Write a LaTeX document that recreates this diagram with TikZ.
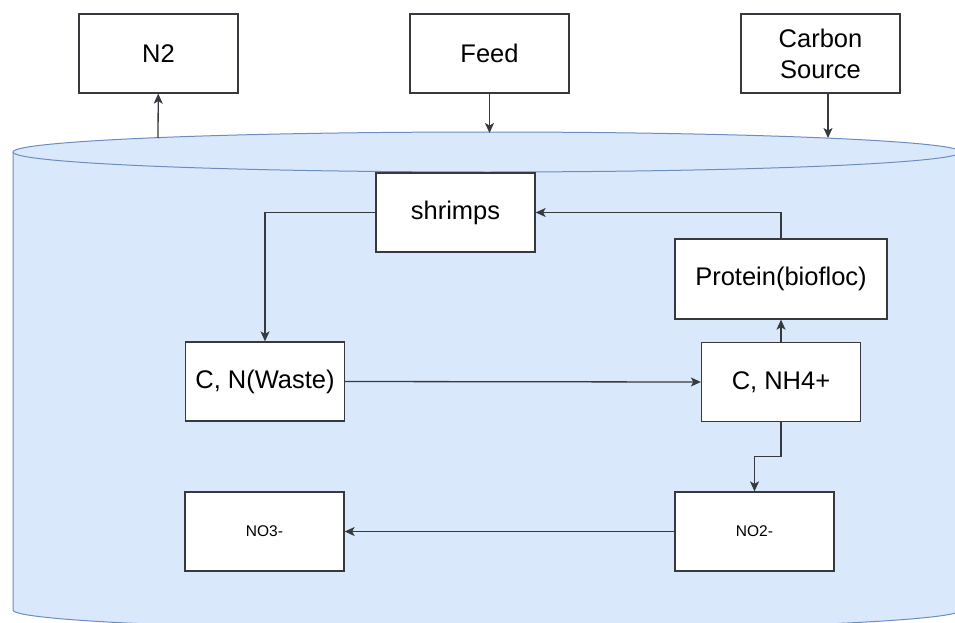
\documentclass[tikz,border=0pt]{standalone}
\usepackage{fontspec}
\setmainfont{Liberation Sans}
\usepackage{xcolor}
\usetikzlibrary{arrows.meta, positioning}
\definecolor{tankfill}{HTML}{DAE8FC}
\definecolor{tankline}{HTML}{6C8EBF}
\definecolor{boxline}{HTML}{36393D}
\tikzset{
    box/.style={draw=boxline, line width=1.3pt, fill=white, minimum width=159pt, minimum height=79pt, inner sep=0pt, font=\fontsize{25.5}{31}\selectfont, align=center},
    smallbox/.style={box, font=\fontsize{15.5}{18}\selectfont},
    flow/.style={draw=boxline, line width=1.3pt, -{Stealth[length=10pt, width=9pt, inset=2.5pt]}},
    tank/.style={fill=tankfill, draw=tankline, line width=1pt}
}
\begin{document}
\begin{tikzpicture}[x=1pt, y=-1pt]
    \useasboundingbox (0,0) rectangle (955,623);
    \clip (0,0) rectangle (955,623);
    \fill[tankfill] (13,152) rectangle (961,610);
    \fill[tankfill] (487,610) ellipse [x radius=474, y radius=20];
    \draw[tank] (13,152) -- (13,610) arc[start angle=180, end angle=0, x radius=474, y radius=20] -- (961,152);
    \draw[tank] (487,152) ellipse [x radius=474, y radius=20];
    \node[box] (n2) at (158.5,53.5) {N2};
    \node[box] (feed) at (489.5,53.5) {Feed};
    \node[box] (carbon) at (820.5,53.5) {Carbon\\Source};
    \node[box] (shrimps) at (455.5,212.5) {shrimps};
    \node[box, minimum width=212pt, minimum height=80pt] (protein) at (781,279) {Protein(biofloc)};
    \node[box] (waste) at (265,381.5) {C, N(Waste)};
    \node[box] (ammonium) at (781,382) {C, NH4+};
    \node[smallbox] (nitrite) at (754.5,531.5) {NO2-};
    \node[smallbox] (nitrate) at (264.5,531.5) {NO3-};
    \coordinate (n2src) at (158,138);
    \coordinate (feedin) at (489.5,133);
    \coordinate (carbonin) at (828,138);
    \draw[flow] (n2src) -- (n2);
    \draw[flow] (feed) -- (feedin);
    \draw[flow] (carbon.south -| carbonin) -- (carbonin);
    \draw[flow] (shrimps.west) -| (waste.north);
    \draw[flow] (waste.east) -- (ammonium.west);
    \draw[flow] (ammonium.north) -- (protein.south);
    \draw[flow] (protein.north) |- (shrimps.east);
    \draw[flow] (ammonium.south) -- ++(0,34) -| (nitrite.north);
    \draw[flow] (nitrite.west) -- (nitrate.east);
\end{tikzpicture}
\end{document}
